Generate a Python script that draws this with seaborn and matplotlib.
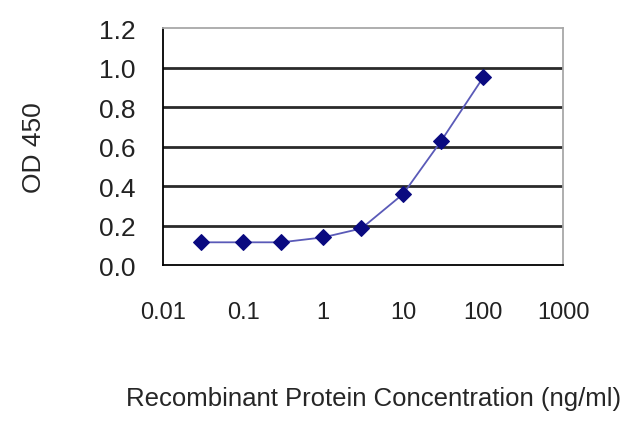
import matplotlib
matplotlib.use("Agg")
import matplotlib.pyplot as plt
import seaborn as sns
import pandas as pd

# concentrations (ng/ml) and OD450 readings
conc = [0.03, 0.1, 0.3, 1, 3, 10, 30, 100]
od450 = [0.115, 0.115, 0.115, 0.14, 0.185, 0.36, 0.63, 0.95]
xticks = [0.01, 0.1, 1, 10, 100, 1000]
xticklabels = ["0.01", "0.1", "1", "10", "100", "1000"]
yticks = [0.0, 0.2, 0.4, 0.6, 0.8, 1.0, 1.2]

sns.set_style("white")
plt.rcParams['font.family'] = ['Liberation Sans', 'DejaVu Sans']
plt.rcParams['text.color'] = '#222222'
plt.rcParams['xtick.labelcolor'] = '#222222'
plt.rcParams['ytick.labelcolor'] = '#222222'

df = pd.DataFrame({"conc": conc, "od": od450})

fig = plt.figure(figsize=(6.4, 4.27), dpi=100)
ax = fig.add_axes([0.255, 0.377, 0.625, 0.555])

# 网格线
for v in yticks[1:-1]:
    ax.axhline(v, color="#2a2a2a", lw=2.0, zorder=1)

sns.lineplot(data=df, x="conc", y="od", ax=ax,
             color="#5a5ab8", lw=1.3,
             marker="D", markersize=8,
             markerfacecolor="#0a0a80", markeredgecolor="#0a0a80",
             zorder=3)

ax.set_xscale("log")
ax.set_xlim(0.01, 1000)
ax.set_ylim(0, 1.2)
ax.set_xticks(xticks)
ax.set_xticklabels(xticklabels, fontsize=17)
ax.minorticks_off()
ax.set_yticks(yticks)
ax.set_yticklabels([f"{v:.1f}" for v in yticks], fontsize=19)
ax.tick_params(axis="x", direction="out", length=4, width=1.2, pad=22, color="black")
ax.tick_params(axis="y", direction="in", length=4, width=1.2, pad=20, color="black")

for s in ["left", "bottom"]:
    ax.spines[s].set_color("black")
    ax.spines[s].set_linewidth(1.3)
for s in ["top", "right"]:
    ax.spines[s].set_color("#a8a8a8")
    ax.spines[s].set_linewidth(1.3)

ax.set_ylabel("OD 450", fontsize=19)
ax.yaxis.set_label_coords(-0.2925, 0.5)
ax.set_xlabel("Recombinant Protein Concentration (ng/ml)", fontsize=18.5)
ax.xaxis.set_label_coords(0.526, -0.51)

fig.savefig("out.png", dpi=100)
